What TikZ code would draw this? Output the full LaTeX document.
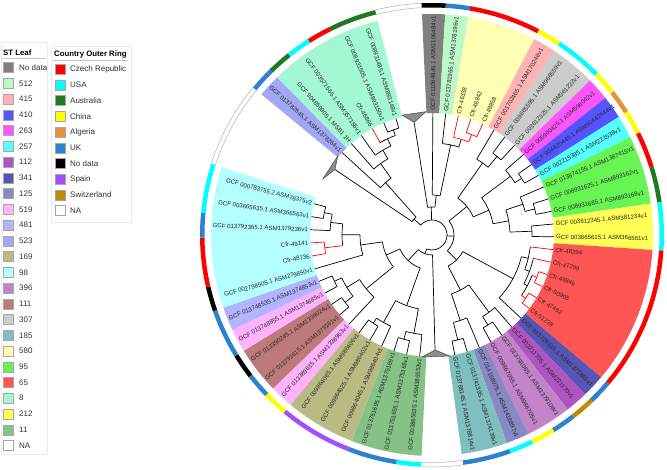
\documentclass[tikz,border=0pt]{standalone}
\usepackage{fontspec}
\setmainfont{Liberation Sans}
% ST colours
\definecolor{sNoData}{HTML}{808080}
\definecolor{s512}{HTML}{BDF8C8}
\definecolor{s415}{HTML}{FFB3B3}
\definecolor{s410}{HTML}{5555FF}
\definecolor{s263}{HTML}{FF55FF}
\definecolor{s257}{HTML}{55FFFF}
\definecolor{s112}{HTML}{AF55C2}
\definecolor{s341}{HTML}{5555B5}
\definecolor{s125}{HTML}{8888C5}
\definecolor{s519}{HTML}{FFB3FF}
\definecolor{s481}{HTML}{B3B3FF}
\definecolor{s523}{HTML}{A3A8F5}
\definecolor{s169}{HTML}{BABA84}
\definecolor{s98}{HTML}{B3FFFF}
\definecolor{s396}{HTML}{C383C8}
\definecolor{s111}{HTML}{BC7A7A}
\definecolor{s307}{HTML}{CCCCCC}
\definecolor{s185}{HTML}{7FBFBF}
\definecolor{s580}{HTML}{FFFFB3}
\definecolor{s95}{HTML}{66F553}
\definecolor{s65}{HTML}{FF5555}
\definecolor{s8}{HTML}{A3F7D3}
\definecolor{s212}{HTML}{FFFF55}
\definecolor{s11}{HTML}{85C285}
% country colours
\definecolor{cCZ}{HTML}{FF0000}
\definecolor{cUS}{HTML}{00FFFF}
\definecolor{cAU}{HTML}{217A21}
\definecolor{cCN}{HTML}{FFFF00}
\definecolor{cDZ}{HTML}{E8903C}
\definecolor{cUK}{HTML}{2C82D0}
\definecolor{cND}{HTML}{000000}
\definecolor{cES}{HTML}{A050FF}
\definecolor{cCH}{HTML}{BF8C00}
\definecolor{cNA}{HTML}{FFFFFF}
\tikzset{
  tl/.style={line width=0.7pt, draw=black},
  lbl/.style={inner sep=0pt, font=\fontsize{6.1}{7}\selectfont, text=black!85},
  leg/.style={inner sep=0pt, anchor=west, font=\fontsize{8}{9.6}\selectfont, text=black!80},
  legt/.style={inner sep=0pt, anchor=west, font=\bfseries\fontsize{7.8}{9}\selectfont},
  sw/.style={draw=black!35, line width=0.4pt},
  tri/.style={fill=black!45, draw=black!70, line width=0.5pt},
  legbox/.style={draw=black!8, line width=0.6pt},
}
\newcommand{\TRad}[4][]{\draw[tl,#1] (#2:#3pt) -- (#2:#4pt);}
\newcommand{\TArc}[4][]{\draw[tl,#1] (#3:#2pt) arc[start angle=#3, end angle=#4, radius=#2pt];}
\begin{document}
\begin{tikzpicture}[x=1pt,y=1pt]
\useasboundingbox (0,0) rectangle (667,470);
\fill[white] (0,0) rectangle (667,470);

% ---------------- legends ----------------
\draw[legbox] (1,16) rectangle (47,428);
\draw[legbox] (51,248) rectangle (131,424);
\node[legt] (sttitle) at (3,417) {ST Leaf};
\draw[black!22, line width=1.5pt] (2,411.5) -- (46,411.5);
\foreach \c/\t [count=\k from 0] in {sNoData/No data, s512/512, s415/415, s410/410, s263/263, s257/257, s112/112, s341/341, s125/125, s519/519, s481/481, s523/523, s169/169, s98/98, s396/396, s111/111, s307/307, s185/185, s580/580, s95/95, s65/65, s8/8, s212/212, s11/11, white/NA}{
  \pgfmathsetmacro\yy{470-(67.7+15.74*\k)}
  \filldraw[sw, fill=\c] (3.3,\yy-5) rectangle (13.3,\yy+5);
  \node[leg] (st\k) at (19,\yy) {\t};
}
\node[legt] (cotitle) at (54,415.5) {Country Outer Ring};
\draw[black!22, line width=1.5pt] (53,409.5) -- (128,409.5);
\foreach \c/\t [count=\k from 0] in {cCZ/Czech Republic, cUS/USA, cAU/Australia, cCN/China, cDZ/Algeria, cUK/UK, cND/No data, cES/Spain, cCH/Switzerland, cNA/NA}{
  \pgfmathsetmacro\yy{470-(69.3+15.7*\k)}
  \filldraw[sw, fill=\c] (54.7,\yy-5) rectangle (64.7,\yy+5);
  \node[leg] (co\k) at (70,\yy) {\t};
}

% ---------------- circular tree ----------------
\begin{scope}[shift={(432,235)}]
% ST highlight wedges
\foreach \a/\b/\c in {92.6/86.57/sNoData, 86.57/80.54/s512, 80.54/62.45/s580, 62.45/56.42/s415, 56.42/44.36/s307, 44.36/38.33/s263, 38.33/32.30/s410, 32.30/26.27/s257, 26.27/8.18/s95, 8.18/-3.88/s212, -3.88/-40.06/s65, -40.06/-46.09/s341, -46.09/-52.12/s112, -52.12/-64.18/s396, -64.18/-70.21/s125, -70.21/-82.27/s185, -92.7/-111.27/s11, -111.27/-129.84/s169, -129.84/-136.03/s519, -136.03/-148.41/s111, -148.41/-154.6/s519, -154.6/-160.79/s481, -160.79/-197.93/s98, 140.5/134.45/s523, 134.45/104.2/s8}
  \fill[\c] (\a:122pt) arc[start angle=\a, end angle=\b, radius=122pt] -- (\b:221pt) arc[start angle=\b, end angle=\a, radius=221pt] -- cycle;

% country outer ring
\foreach \a/\b/\c in {92.6/86.57/cND, 86.57/80.54/cUK, 80.54/62.45/cCZ, 62.45/56.42/cCN, 56.42/44.36/cUS, 44.36/38.33/cCN, 38.33/32.30/cDZ, 32.30/26.27/cCN, 26.27/17.2/cCZ, 17.2/8.18/cAU, 8.18/-3.88/cUS, -3.88/-40.06/cCZ, -40.06/-46.09/cUK, -46.09/-52.12/cCH, -52.12/-58.15/cUK, -58.15/-64.18/cCN, -64.18/-70.21/cUS, -70.21/-82.27/cUK, -92.7/-98.89/cUS, -98.89/-111.27/cUK, -111.27/-129.84/cES, -129.84/-136.03/cCN, -136.03/-142.22/cUK, -142.22/-148.41/cND, -148.41/-160.79/cUK, -160.79/-166.98/cND, -166.98/-179.36/cCZ, -179.36/-185.55/cUK, -185.55/-197.93/cUS, 140.5/134.45/cUK, 134.45/128.4/cAU, 128.4/122.35/cUS, 122.35/116.3/cCZ, 116.3/104.2/cAU}
  \fill[\c] (\a:227.5pt) arc[start angle=\a, end angle=\b, radius=227.5pt] -- (\b:232pt) arc[start angle=\b, end angle=\a, radius=232pt] -- cycle;
\foreach \a/\b in {104.2/92.6, -82.27/-92.7, 162.07/140.5}{
  \draw[black!30, line width=0.5pt] (\a:227.5pt) arc[start angle=\a, end angle=\b, radius=227.5pt];
  \draw[black!30, line width=0.5pt] (\a:232pt) arc[start angle=\a, end angle=\b, radius=232pt];
}

% leaf labels, right half
\foreach \a/\t [count=\n] in {89.59/GCF 011064845.1 ASM1106484v1, 83.56/GCF 013781965.1 ASM1378196v1, 77.53/Cfr-46338, 71.50/Cfr-48842, 65.47/Cfr-48858, 59.44/GCF 001702465.1 ASM170246v1, 53.41/GCF 009665595.1 ASM966559v1, 47.38/GCF 003612325.1 ASM361232v1, 41.35/GCF 005960425.1 ASM596042v1, 35.32/GCF 904425445.1 ASM90442544v1, 29.29/GCF 002215385.1 ASM221538v1, 23.26/GCF 013874155.1 ASM1387415v1, 17.23/GCF 008931625.1 ASM893162v1, 11.20/GCF 008931685.1 ASM893168v1, 5.17/GCF 003812345.1 ASM381234v1, -0.86/GCF 003665615.1 ASM366561v1, -6.89/Cfr-48294, -12.92/Cfr-47299, -18.95/Cfr-49846, -24.98/Cfr-50905, -31.01/Cfr-47462, -37.04/Cfr-51238, -43.07/GCF 013728615.1 ASM1372861v1, -49.10/GCF 002211705.1 ASM221170v1, -55.13/GCF 013791085.1 ASM1379108v1, -61.16/GCF 009867055.1 ASM986705v1, -67.19/GCF 014168975.1 ASM1416897v1, -73.22/GCF 013741395.1 ASM1374139v1, -79.25/GCF 013788145.1 ASM1378814v1}
  \node[lbl, anchor=west, rotate=\a] (ra\n) at (\a:124pt) {\t};
% leaf labels, left half
\foreach \a/\t [count=\n] in {-95.80/GCF 003865535.1 ASM386553v1, -101.99/GCF 013751655.1 ASM1375165v1, -108.18/GCF 013751695.1 ASM1375169v1, -114.37/GCF 009864045.1 ASM986404v1, -120.56/GCF 009864025.1 ASM986402v1, -126.75/GCF 009864065.1 ASM986406v1, -132.94/GCF 013389635.1 ASM1338963v1, -139.13/GCF 013791615.1 ASM1379161v1, -145.32/GCF 013390245.1 ASM1339024v1, -151.51/GCF 013748855.1 ASM1374885v1, -157.70/GCF 013748535.1 ASM1374853v1, -163.89/GCF 002798505.1 ASM279850v1, -170.08/Cfr-48736, -176.27/Cfr-49141, -182.46/GCF 013792365.1 ASM1379236v1, -188.65/GCF 003665635.1 ASM366563v1, -194.84/GCF 000783755.2 ASM78375v2, 137.48/GCF 013782645.1 ASM1378264v1, 131.43/GCF 904859905.1 MSB1 1H, 125.38/GCF 003571565.1 ASM357156v1, 119.33/Cfr-46866, 113.28/GCF 008931505.1 ASM893150v1, 107.23/GCF 008931485.1 ASM893148v1}
  \node[lbl, anchor=east, rotate=\a+180] (la\n) at (\a:124pt) {\t};

% ---- branches ----
% root
\TArc{15}{138.81}{-110.77}
\TRad{138.81}{15}{24} \TRad{91.47}{15}{28} \TRad{-3.12}{15}{22} \TRad{-110.77}{15}{20}
% G1
\TArc{24}{146}{131.62} \TRad{146}{24}{117} \TRad{131.62}{24}{70}
\TArc{70}{137.48}{125.76} \TRad{137.48}{70}{122} \TRad{125.76}{70}{88}
\TArc{88}{131.43}{120.09} \TRad{131.43}{88}{122} \TRad{120.09}{88}{98}
\TArc{98}{125.38}{114.79} \TRad{125.38}{98}{122} \TRad{114.79}{98}{106}
\TArc{106}{119.33}{110.255} \TRad[red]{119.33}{106}{122} \TRad{110.255}{106}{112}
\TArc{112}{113.28}{107.23} \TRad{113.28}{112}{122} \TRad{107.23}{112}{122}
% G2
\TArc{28}{99}{83.94} \TRad{99}{28}{114} \TRad{83.94}{28}{40}
\TArc{40}{89.59}{78.29} \TRad{89.59}{40}{122} \TRad{78.29}{40}{92}
\TArc{92}{83.56}{73.01} \TRad{83.56}{92}{122} \TRad{73.01}{92}{100}
\TArc[red]{100}{77.53}{68.49} \TRad[red]{77.53}{100}{122} \TRad[red]{68.49}{100}{108}
\TArc[red]{108}{71.50}{65.47} \TRad[red]{71.50}{108}{122} \TRad[red]{65.47}{108}{122}
% G3
\TArc{22}{39.28}{-45.52} \TRad{39.28}{22}{45} \TRad{-45.52}{22}{35}
\TArc{45}{54.92}{23.64} \TRad{54.92}{45}{88} \TRad{23.64}{45}{62}
\TArc{88}{59.44}{50.395} \TRad{59.44}{88}{122} \TRad{50.395}{88}{102}
\TArc{102}{53.41}{47.38} \TRad{53.41}{102}{122} \TRad{47.38}{102}{122}
\TArc{62}{36.83}{10.45} \TRad{36.83}{62}{98} \TRad{10.45}{62}{78}
\TArc{98}{41.35}{32.305} \TRad{41.35}{98}{122} \TRad{32.305}{98}{106}
\TArc{106}{35.32}{29.29} \TRad{35.32}{106}{122} \TRad{29.29}{106}{122}
\TArc{78}{18.74}{2.155} \TRad{18.74}{78}{96} \TRad{2.155}{78}{100}
\TArc{96}{23.26}{14.215} \TRad{23.26}{96}{122} \TRad{14.215}{96}{106}
\TArc{106}{17.23}{11.20} \TRad{17.23}{106}{122} \TRad{11.20}{106}{122}
\TArc{100}{5.17}{-0.86} \TRad{5.17}{100}{122} \TRad{-0.86}{100}{122}
\TArc{35}{-28.37}{-62.67} \TRad{-28.37}{35}{92} \TRad{-62.67}{35}{62}
\TArc{92}{-13.675}{-43.07} \TRad{-13.675}{92}{99} \TRad{-43.07}{92}{122}
\TArc{99}{-6.89}{-20.46} \TRad[red]{-6.89}{99}{122} \TRad{-20.46}{99}{104}
\TArc{104}{-12.92}{-27.995} \TRad[red]{-12.92}{104}{122} \TRad{-27.995}{104}{108}
\TArc{108}{-21.965}{-34.025} \TRad[red]{-21.965}{108}{113} \TRad[red]{-34.025}{108}{113}
\TArc[red]{113}{-18.95}{-24.98} \TRad[red]{-18.95}{113}{122} \TRad[red]{-24.98}{113}{122}
\TArc[red]{113}{-31.01}{-37.04} \TRad[red]{-31.01}{113}{122} \TRad[red]{-37.04}{113}{122}
\TArc{62}{-53.62}{-71.71} \TRad{-53.62}{62}{96} \TRad{-71.71}{62}{90}
\TArc{96}{-49.10}{-58.145} \TRad{-49.10}{96}{122} \TRad{-58.145}{96}{106}
\TArc{106}{-55.13}{-61.16} \TRad{-55.13}{106}{122} \TRad{-61.16}{106}{122}
\TArc{90}{-67.19}{-76.235} \TRad{-67.19}{90}{122} \TRad{-76.235}{90}{108}
\TArc{108}{-73.22}{-79.25} \TRad{-73.22}{108}{122} \TRad{-79.25}{108}{122}
% G4
\TArc{20}{-88.5}{-133.04} \TRad{-88.5}{20}{115} \TRad{-133.04}{20}{35}
\TArc{35}{-109.73}{-156.35} \TRad{-109.73}{35}{75} \TRad{-156.35}{35}{50}
\TArc{75}{-100.44}{-119.01} \TRad{-100.44}{75}{100} \TRad{-119.01}{75}{100}
\TArc{100}{-95.80}{-105.085} \TRad{-95.80}{100}{122} \TRad{-105.085}{100}{108}
\TArc{108}{-101.99}{-108.18} \TRad{-101.99}{108}{122} \TRad{-108.18}{108}{122}
\TArc{100}{-114.37}{-123.655} \TRad{-114.37}{100}{122} \TRad{-123.655}{100}{106}
\TArc{106}{-120.56}{-126.75} \TRad{-120.56}{106}{122} \TRad{-126.75}{106}{122}
\TArc{50}{-140.68}{-172.015} \TRad{-140.68}{50}{85} \TRad{-172.015}{50}{72}
\TArc{85}{-132.94}{-148.415} \TRad{-132.94}{85}{122} \TRad{-148.415}{85}{100}
\TArc{100}{-142.225}{-154.605} \TRad{-142.225}{100}{110} \TRad{-154.605}{100}{108}
\TArc{110}{-139.13}{-145.32} \TRad{-139.13}{110}{122} \TRad{-145.32}{110}{122}
\TArc{108}{-151.51}{-157.70} \TRad{-151.51}{108}{122} \TRad{-157.70}{108}{122}
\TArc{72}{-163.89}{-180.14} \TRad{-163.89}{72}{122} \TRad{-180.14}{72}{90}
\TArc{90}{-173.175}{-187.10} \TRad[red]{-173.175}{90}{108} \TRad{-187.10}{90}{102}
\TArc[red]{108}{-170.08}{-176.27} \TRad[red]{-170.08}{108}{122} \TRad[red]{-176.27}{108}{122}
\TArc{102}{-182.46}{-191.745} \TRad{-182.46}{102}{122} \TRad{-191.745}{102}{110}
\TArc{110}{-188.65}{-194.84} \TRad{-188.65}{110}{122} \TRad{-194.84}{110}{122}

% collapsed clades
\filldraw[tri] (99:114pt) -- (104:123.5pt) -- (92.8:123.5pt) -- cycle;
\filldraw[tri] (146:117pt) -- (152.8:122.7pt) -- (140:123pt) -- cycle;
\filldraw[tri] (-88.5:115pt) -- (-94.7:122.4pt) -- (-81.6:122.4pt) -- cycle;
\end{scope}
\end{tikzpicture}
\end{document}
